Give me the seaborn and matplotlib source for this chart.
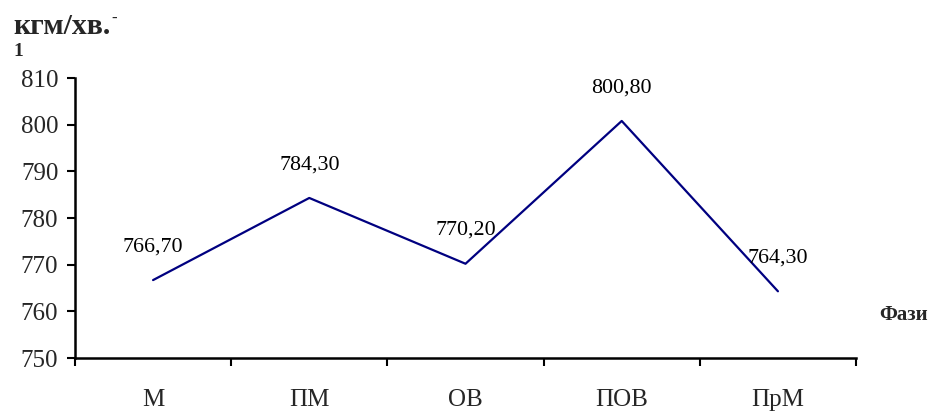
import matplotlib
matplotlib.use("Agg")
import matplotlib.pyplot as plt
import seaborn as sns
import pandas as pd

phases = ["М", "ПМ", "ОВ", "ПОВ", "ПрМ"]
power = [766.70, 784.30, 770.20, 800.80, 764.30]
y_ticks = [750, 760, 770, 780, 790, 800, 810]

sns.set_theme(style="white")
plt.rcParams["font.family"] = ["Liberation Serif", "DejaVu Serif"]

df = pd.DataFrame({"phase": phases, "power": power})

fig = plt.figure(figsize=(9.37, 4.15), dpi=100)
ax = fig.add_axes([0.080, 0.1373, 0.8336, 0.6747])

x_pos = [i + 0.5 for i in range(len(phases))]
df["x"] = x_pos
sns.lineplot(data=df, x="x", y="power", ax=ax, color="#000080", linewidth=1.6,
             sort=False, legend=False)

for xv, yv in zip(x_pos, power):
    ax.annotate(f"{yv:.2f}".replace(".", ","), (xv, yv), xytext=(0, 24),
                textcoords="offset points", ha="center", va="center",
                fontsize=15.8, family="Liberation Serif", color="black")

ax.set_xlim(0, len(phases))
ax.set_ylim(750, 810)
ax.set_yticks(y_ticks)
ax.set_yticklabels([str(v) for v in y_ticks], family="Liberation Serif", fontsize=18)
ax.set_xticks(range(len(phases) + 1))
ax.set_xticklabels([])
ax.set_xticks(x_pos, minor=True)
ax.set_xticklabels(phases, minor=True, family="Liberation Serif", fontsize=18)
ax.tick_params(axis="x", which="minor", length=0, pad=22)
ax.tick_params(axis="x", which="major", direction="out", length=6, width=1.5,
               color="black", bottom=True)
ax.tick_params(axis="y", direction="out", length=6, width=1.5, color="black",
               left=True, pad=6)
ax.set_xlabel("")
ax.set_ylabel("")

for side in ["top", "right"]:
    ax.spines[side].set_visible(False)
for side in ["left", "bottom"]:
    ax.spines[side].set_color("black")
    ax.spines[side].set_linewidth(1.8)

fig.text(13 / 937, 1 - 26 / 415, "кгм/хв.", fontsize=21.5, fontweight="bold",
         family="Liberation Serif", va="center", ha="left")
fig.text(111 / 937, 1 - 19 / 415, "-", fontsize=12, fontweight="bold",
         family="Liberation Serif", va="center", ha="left")
fig.text(13 / 937, 1 - 51 / 415, "1", fontsize=14, fontweight="bold",
         family="Liberation Serif", va="center", ha="left")
fig.text(879 / 937, 1 - 315 / 415, "Фази", fontsize=15, fontweight="bold",
         family="Liberation Serif", va="center", ha="left")

fig.savefig("out.png", dpi=100)
